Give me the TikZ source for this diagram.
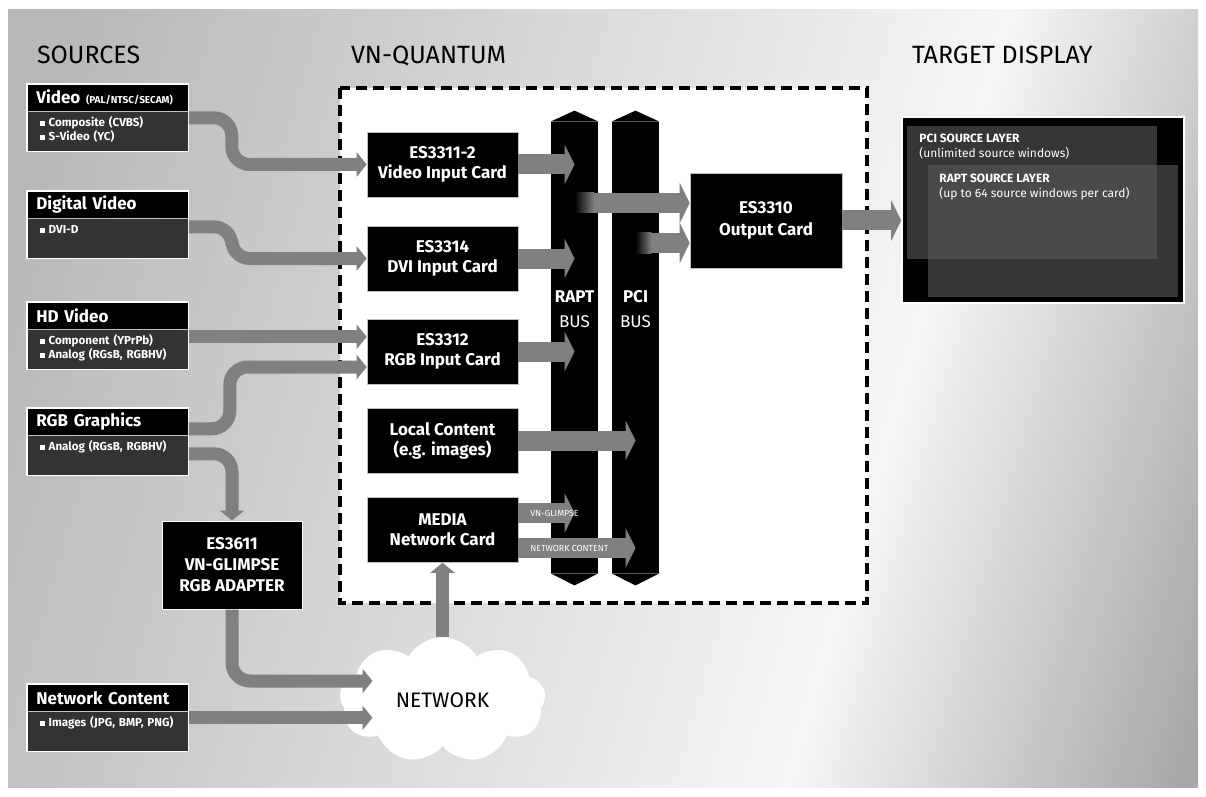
\documentclass[tikz,border=0pt]{standalone}
\usepackage{fontspec}
\setmainfont{Fira Sans}
\usetikzlibrary{arrows.meta,shapes.symbols,calc}

\definecolor{arrowgray}{HTML}{808080}
\definecolor{bodygray}{HTML}{333333}
\definecolor{layergray}{HTML}{363636}
\definecolor{overlapgray}{HTML}{4A4A4A}
\definecolor{bgleft}{HTML}{B8B8B8}
\definecolor{bgmid}{HTML}{F6F6F6}
\definecolor{bgright}{HTML}{A8A8A8}
\pgfdeclarehorizontalshading{bgshade}{100bp}{color(0bp)=(bgleft); color(22bp)=(bgleft); color(63bp)=(bgmid); color(80bp)=(bgright); color(100bp)=(bgright)}

\newcommand{\bulletsq}{\rule[0.3pt]{2.4pt}{2.4pt}\hspace{2pt}}

\begin{document}
\begin{tikzpicture}[x=0.5pt,y=-0.5pt,
  srcarrow/.style={draw=arrowgray,line width=6.5pt,-{Triangle[width=12pt,length=5pt]},rounded corners=9pt},
  busarrow/.style={draw=arrowgray,line width=10pt,-{Triangle[width=20pt,length=5pt]}},
  srchead/.style={fill=black,text=white,font=\fontsize{8.5}{10}\selectfont\bfseries,anchor=north west,
    minimum height=13.5pt,text width=71.5pt,inner xsep=4.5pt,inner ysep=0pt,align=left},
  srcbody/.style={fill=bodygray,text=white,font=\fontsize{5.8}{7}\selectfont\bfseries,anchor=north west,
    text width=68pt,inner xsep=6.25pt,inner ysep=2pt,text height=5pt,text depth=10.5pt,align=left},
  srcframe/.style={draw=white,line width=0.6pt},
  card/.style={fill=black,draw=gray!50,line width=0.3pt,text=white,font=\fontsize{8.5}{10}\selectfont\bfseries,
    align=center,minimum width=75.5pt,minimum height=32.5pt},
  bus/.style={fill=black,minimum width=23.5pt,minimum height=225.5pt,inner sep=0pt},
  buslabel/.style={text=white,align=center,font=\fontsize{8.5}{12.5}\selectfont,anchor=base},
  arrowlabel/.style={text=white,font=\fontsize{4.4}{5}\selectfont,inner xsep=1pt},
  heading/.style={anchor=base west,font=\fontsize{12.5}{14}\selectfont},
  layertext/.style={anchor=north west,align=left,inner sep=0pt,text=white,font=\fontsize{6}{7.5}\selectfont}]

\useasboundingbox (0,0) rectangle (1206,797);

% background
\fill[white] (0,0) rectangle (1206,797);
\shade[shading=bgshade,shading angle=-16] (8,10) rectangle (1198,787);

% column headings
\node[heading] (hsrc) at (30,64) {SOURCES};
\node[heading] (hvnq) at (344,64) {VN-QUANTUM};
\node[heading] (htgt) at (905,64) {TARGET DISPLAY};

% VN-Quantum frame
\filldraw[fill=white,draw=black,line width=1.7pt,dash pattern=on 5.5pt off 3pt] (340,88) rectangle (867,603);

% buses
\node[bus] (rapt) at (574.5,347.5) {};
\node[bus] (pci) at (635.5,347.5) {};
\foreach \b in {rapt,pci} {
  \fill (\b.north west) -- ($(\b.north)+(0,-11)$) -- (\b.north east) -- cycle;
  \fill (\b.south west) -- ($(\b.south)+(0,12)$) -- (\b.south east) -- cycle;
}
\node[buslabel] (raptlbl) at (574.5,327) {\textbf{RAPT}\\BUS};
\node[buslabel] (pcilbl) at (635.5,327) {\textbf{PCI}\\BUS};

% cards
\node[card] (c3311) at (442.5,164.5) {ES3311-2\\Video Input Card};
\node[card] (c3314) at (442.5,258.5) {ES3314\\DVI Input Card};
\node[card] (c3312) at (442.5,351.5) {ES3312\\RGB Input Card};
\node[card] (local) at (442.5,440.5) {Local Content\\(e.g. images)};
\node[card] (media) at (442.5,530) {MEDIA\\Network Card};
\node[card,minimum width=76pt,minimum height=47.5pt,font=\fontsize{8.5}{11}\selectfont\bfseries] (outc) at (766,220.5) {ES3310\\Output Card};

% cards to buses
\draw[busarrow] (c3311.east) -- (c3311.east -| rapt.center);
\draw[busarrow] (c3314.east) -- (c3314.east -| rapt.center);
\draw[busarrow] (c3312.east) -- (c3312.east -| rapt.center);
\draw[busarrow] (local.east) -- (local.east -| pci.center);
\coordinate (mg) at ($(media.east)+(0,-17)$);
\coordinate (mn) at ($(media.east)+(0,18)$);
\draw[busarrow] (mg) -- (mg -| rapt.center) node[pos=0,anchor=west,arrowlabel] {VN-GLIMPSE};
\draw[busarrow] (mn) -- (mn -| pci.center) node[pos=0,anchor=west,arrowlabel] {NETWORK CONTENT};

% buses to output card
\coordinate (o1) at ($(outc.west)+(0,-17.5)$);
\coordinate (o2) at ($(outc.west)+(0,22.5)$);
\draw[busarrow] (o1 -| rapt.center) -- (o1);
\draw[busarrow] (o2 -| pci.center) -- (o2);
\shade[left color=black,right color=arrowgray] ($(o1 -| rapt.center)+(0,-10)$) rectangle ($(o1 -| rapt.east)+(-4,10)$);
\shade[left color=black,right color=arrowgray] ($(o2 -| pci.center)+(0,-10)$) rectangle ($(o2 -| pci.east)+(-8,10)$);

% target display
\node[draw=white,line width=0.8pt,fill=black,minimum width=141pt,minimum height=93pt,inner sep=0pt] (disp) at (1043,210) {};
\node[fill=layergray,minimum width=125pt,minimum height=66.5pt,inner sep=0pt] (pcil) at (1032,192.5) {};
\node[fill=layergray,minimum width=125pt,minimum height=66pt,inner sep=0pt] (raptl) at (1053,231) {};
\fill[overlapgray] (raptl.north west) rectangle (pcil.south east);
\node[layertext] (pcitxt) at (919,134) {\textbf{PCI SOURCE LAYER}\\(unlimited source windows)};
\node[layertext] (rapttxt) at (939,174) {\textbf{RAPT SOURCE LAYER}\\(up to 64 source windows per card)};
\draw[busarrow] (outc.east) -- (outc.east -| disp.west);

% network
\node[cloud,cloud puffs=9,cloud puff arc=120,cloud ignores aspect,fill=white,minimum width=103pt,minimum height=63pt,
  font=\fontsize{10.5}{12}\selectfont] (net) at (442.5,700) {NETWORK};
\coordinate (netin) at ($(net.center)+(-70,0)$);

% glimpse adapter
\node[card,draw=white,line width=0.5pt,minimum width=70pt,minimum height=44pt,font=\fontsize{8.5}{10.5}\selectfont\bfseries] (glimpse) at (232,565) {ES3611\\VN-GLIMPSE\\RGB ADAPTER};

% sources
\node[srchead] (video) at (27,84) {Video \mbox{\fontsize{5}{6}\selectfont(PAL/NTSC/SECAM)}};
\node[srcbody] (videob) at (video.south west) {\bulletsq Composite (CVBS)\\\bulletsq S-Video (YC)};
\draw[srcframe] (video.north west) rectangle (videob.south east);

\node[srchead] (dvid) at (27,191) {Digital Video};
\node[srcbody] (dvidb) at (dvid.south west) {\bulletsq DVI-D};
\draw[srcframe] (dvid.north west) rectangle (dvidb.south east);

\node[srchead] (hd) at (27,302) {HD Video};
\node[srcbody] (hdb) at (hd.south west) {\bulletsq Component (YPrPb)\\\bulletsq Analog (RGsB, RGBHV)};
\draw[srcframe] (hd.north west) rectangle (hdb.south east);

\node[srchead] (rgb) at (27,408) {RGB Graphics};
\node[srcbody] (rgbb) at (rgb.south west) {\bulletsq Analog (RGsB, RGBHV)};
\draw[srcframe] (rgb.north west) rectangle (rgbb.south east);

\node[srchead] (netc) at (27,684) {Network Content};
\node[srcbody] (netcb) at (netc.south west) {\bulletsq \mbox{Images (JPG, BMP, PNG)}};
\draw[srcframe] (netc.north west) rectangle (netcb.south east);

% source connectors
\draw[srcarrow] ($(videob.north east)+(0,6)$) -- ++(43,0) |- (c3311.west);
\draw[srcarrow] ($(dvidb.north east)+(0,8)$) -- ++(43,0) |- (c3314.west);
\coordinate (hdout) at ($(hdb.north east)+(0,7)$);
\draw[srcarrow] (hdout) -- (hdout -| c3312.west);
\draw[srcarrow] ($(rgb.south east)+(0,-7)$) -- ++(41,0) |- ($(c3312.west)+(0,15.5)$);
\draw[srcarrow] ($(rgbb.north east)+(0,18)$) -| (glimpse.north);
\draw[srcarrow] (glimpse.south) |- ($(netin)+(0,-19)$);
\coordinate (ncout) at ($(netcb.north east)+(0,6)$);
\draw[srcarrow] (ncout) -- (ncout -| netin);
\draw[srcarrow] (net.north) -- (media.south);
\end{tikzpicture}
\end{document}
